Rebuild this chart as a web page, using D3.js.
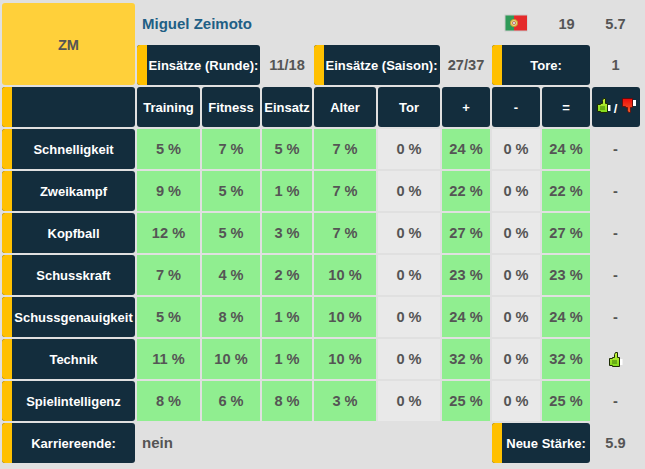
<!DOCTYPE html>
<html><head><meta charset="utf-8">
<script src="https://cdnjs.cloudflare.com/ajax/libs/d3/7.8.5/d3.min.js"></script>
<style>html,body{margin:0;padding:0;background:#e0e0e0}svg{display:block}text{font-family:"Liberation Sans",Arial,sans-serif;font-weight:bold}</style>
</head><body><svg id="c" width="645" height="469"></svg>
<script>
const playerName = "Miguel Zeimoto";
const position = "ZM";
const age = "19";
const strength = "5.7";
const newStrength = "5.9";
const careerEnd = "nein";
const roundApps = "11/18";
const seasonApps = "27/37";
const goals = "1";
const columns = ["Training","Fitness","Einsatz","Alter","Tor","+","-","="];
const skills = ["Schnelligkeit","Zweikampf","Kopfball","Schusskraft","Schussgenauigkeit","Technik","Spielintelligenz"];
const training = [5,9,12,7,5,11,8];
const fitness  = [7,5,5,4,8,10,6];
const einsatz  = [5,1,3,2,1,1,8];
const alter    = [7,7,7,10,10,10,3];
const tor      = [0,0,0,0,0,0,0];
const plus     = [24,22,27,23,24,32,25];
const minus    = [0,0,0,0,0,0,0];
const equal    = [24,22,27,23,24,32,25];
const verdict  = ["-","-","-","-","-","up","-"];
const seriesList = [training,fitness,einsatz,alter,tor,plus,minus,equal];

const NAVY="#132d3d",GOLD="#ffc000",GREEN="#90ee90",GREY="#e9e9e9",INK="#555555",BLUE="#1f5f85";
const VAL=14.6, HEAD=13;
const svg=d3.select("#c");
const defs=svg.append("defs");
const g1=defs.append("linearGradient").attr("id","gu").attr("x1",0).attr("x2",0).attr("y1",0).attr("y2",1);
g1.append("stop").attr("offset",0).attr("stop-color","#c8f53a");g1.append("stop").attr("offset",1).attr("stop-color","#7fd81a");
const g2=defs.append("linearGradient").attr("id","gd").attr("x1",0).attr("x2",0).attr("y1",0).attr("y2",1);
g2.append("stop").attr("offset",0).attr("stop-color","#f00a0a");g2.append("stop").attr("offset",1).attr("stop-color","#f0602a");

// layout scales
const allCols=["label",...columns,"icon"];
const colEdges=[[2,135],[137,200],[202,260],[262,312],[314,376],[378,440],[442,490],[492,540],[542,590],[592,640]];
const xL=d3.scaleOrdinal(allCols,colEdges.map(d=>d[0]));
const xR=d3.scaleOrdinal(allCols,colEdges.map(d=>d[1]));
const xC=c=>(xL(c)+xR(c))/2;
const rowsAll=["head",...skills,"foot"];
const y=d3.scaleBand(rowsAll,[87,463]).paddingInner(2/42);

function accentPath(x,yy,w,h,r){const p=d3.path();p.moveTo(x+w,yy);p.lineTo(x+r,yy);p.arcTo(x,yy,x,yy+r,r);p.lineTo(x,yy+h-r);p.arcTo(x,yy+h,x+r,yy+h,r);p.lineTo(x+w,yy+h);p.closePath();return p.toString();}
function navy(x0,x1,yy,h,accent){
  svg.append("rect").attr("x",x0).attr("y",yy).attr("width",x1-x0).attr("height",h).attr("rx",3).attr("fill",NAVY);
  if(accent) svg.append("path").attr("d",accentPath(x0,yy,10,h,3)).attr("fill",GOLD);
}
function label(t,cx,cy,fill,size,anchor){
  return svg.append("text").attr("x",cx).attr("y",cy).attr("dy","0.36em").attr("text-anchor",anchor||"middle")
    .attr("font-size",size||VAL).attr("fill",fill||INK).text(t);
}
function thumbUp(g){
  g.append("path").attr("d","M.5 6.5H3.5V5.5H5.5V2.5L6.5 .5H8.5V5.5H10.5V14.5H3.5V13.5H.5Z").attr("fill","url(#gu)").attr("stroke","#1c2a05").attr("stroke-width",1);
  g.append("path").attr("d","M3 9H8M3 11H8").attr("stroke","#3d7a08").attr("stroke-width",1);
  g.append("rect").attr("x",11).attr("y",7).attr("width",2.5).attr("height",6).attr("fill","#fff");
}
function thumbDown(g){
  g.append("path").attr("d","M.5 .5H10.5V9.5H8.5V14.5H6.5L5.5 12.5V9.5H3.5V8.5H.5Z").attr("fill","url(#gd)").attr("stroke","#5a0505").attr("stroke-width",.7);
  g.append("rect").attr("x",11).attr("y",2).attr("width",3).attr("height",6).attr("fill","#fff");
}

// top block
svg.append("rect").attr("x",2).attr("y",3).attr("width",133).attr("height",82).attr("rx",3).attr("fill","#ffd03a");
label(position,68.5,44.5,INK,14.6);
label(playerName,142,24,BLUE,15,"start");
// flag
const flag=svg.append("g").attr("transform","translate(505,15)");
flag.append("rect").attr("x",-.5).attr("y",-.5).attr("width",23).attr("height",17).attr("fill","#c9c9c9");
flag.append("rect").attr("x",.5).attr("y",.5).attr("width",8.5).attr("height",15).attr("fill","#2f9a58");
flag.append("rect").attr("x",9).attr("y",.5).attr("width",13).attr("height",15).attr("fill","#e52b2b");
flag.append("circle").attr("cx",9).attr("cy",8).attr("r",3.6).attr("fill","#e9d97a").attr("stroke","#c9962c").attr("stroke-width",1);
flag.append("circle").attr("cx",9).attr("cy",8).attr("r",1.6).attr("fill","#d9d9ee").attr("stroke","#b8432c").attr("stroke-width",.6);
label(age,566.5,24); label(strength,615.5,24);

// second row
navy(137,260,45,40,true); label("Einsätze (Runde):",203.5,65,"#fff",HEAD);
label(roundApps,287,65);
navy(314,440,45,40,true); label("Einsätze (Saison):",381.5,65,"#fff",HEAD);
label(seasonApps,466,65);
navy(492,590,45,40,true); label("Tore:",546,65,"#fff",HEAD);
label(goals,615.5,65);

// header row
navy(xL("label"),xR("label"),y("head"),y.bandwidth(),true);
columns.forEach(c=>{navy(xL(c),xR(c),y("head"),y.bandwidth(),false);label(c,xC(c),y("head")+y.bandwidth()/2,"#fff",HEAD);});
navy(xL("icon"),xR("icon"),y("head"),y.bandwidth(),false);
thumbUp(svg.append("g").attr("transform",`translate(${xL("icon")+5},${y("head")+11})`));
label("/",xC("icon")-.5,y("head")+21,"#fff",HEAD);
thumbDown(svg.append("g").attr("transform",`translate(${xL("icon")+30},${y("head")+11})`));

// skills
skills.forEach((s,i)=>{
  const yy=y(s),h=y.bandwidth(),cy=yy+h/2;
  navy(xL("label"),xR("label"),yy,h,true);
  label(s,(xL("label")+10+xR("label"))/2,cy,"#fff",HEAD);
  columns.forEach((c,j)=>{
    const v=seriesList[j][i];
    svg.append("rect").attr("x",xL(c)).attr("y",yy).attr("width",xR(c)-xL(c)).attr("height",h).attr("fill",v>0?GREEN:GREY);
    label(v+" %",xC(c),cy);
  });
  if(verdict[i]==="up") thumbUp(svg.append("g").attr("transform",`translate(${xC("icon")-7},${cy-7})`));
  else label(verdict[i],xC("icon")-.5,cy);
});

// footer
const fy=y("foot"),fh=y.bandwidth();
navy(xL("label"),xR("label"),fy,fh,true);
label("Karriereende:",73.5,fy+fh/2,"#fff",HEAD);
label(careerEnd,142,fy+fh/2,INK,15,"start");
navy(492,590,fy,fh,true);
label("Neue Stärke:",546,fy+fh/2,"#fff",HEAD);
label(newStrength,615.5,fy+fh/2);
</script></body></html>
